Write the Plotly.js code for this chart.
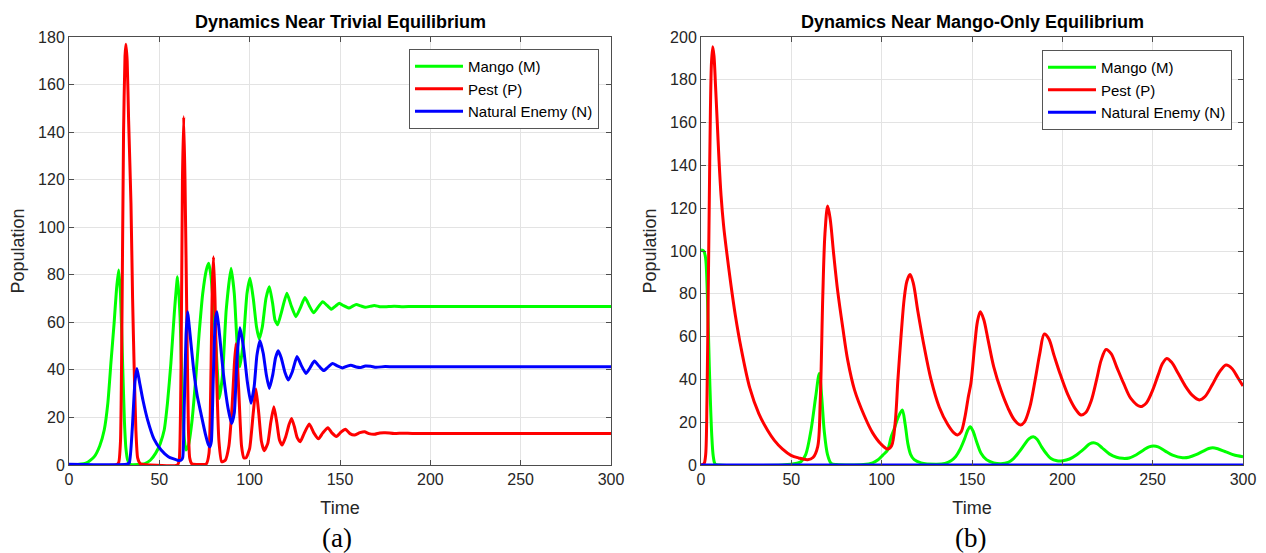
<!DOCTYPE html>
<html>
<head>
<meta charset="utf-8">
<script src="https://cdn.plot.ly/plotly-3.0.1.min.js"></script>
<style>html,body{margin:0;padding:0;background:#fff;}#chart{width:1266px;height:553px;}</style>
</head>
<body>
<div id="chart"></div>
<script>
// ---------- Panel (a): Dynamics Near Trivial Equilibrium ----------
const tMangoA = [0,5,10,14,17,19.5,21.5,23.2,25,26.3,27.5,28.5,29.7,30.7,31.5,32.5,34,38,42,45,48,50.5,52.7,54.5,56.4,58.3,60.1,61.5,62.7,63.7,64.7,66,68,70,72,74,76,77.3,78.5,80,81.5,83.2,85,87,89.7,91.5,93,94.6,96.5,98.5,100.2,102,103.8,105.3,107,109,110.9,112.7,114,115.5,117.5,120.6,123,125.6,128,130.6,133,135.4,138,140.4,143,145.3,147.5,149.6,152,155,157,159,161.5,164,166.5,169,172,175,180,185,190,200,300];
const mangoA  = [0,0.2,1,3.5,8,14.7,26,42.8,60,74,82,72,42,18,7,2,0.3,0.2,0.6,2,5,9,14.7,26,42.8,64,79.2,62,30,12,6.3,8,18,35,55,72,82,84.8,80,66,48,28,38,65,82.7,72,52,41.3,52,72,78.5,70,58,53,58,70,75,68,61,59,64,72.2,67,62.4,66,70.4,67,64,66.5,68.7,67,65.5,66.8,68,67,66,66.8,67.5,66.9,66.3,66.7,67.1,66.6,66.6,66.8,66.6,66.7,66.7,66.7];

const tPestA = [0,26,27.5,28.5,29.3,30.2,31,31.5,32.2,33,34.3,35.2,36.1,37,38,39.5,45,60,61,62,62.8,63.5,64.2,65.3,66.1,66.8,68,76,77.5,78.6,79.3,80,80.8,81.8,83,84.5,86.5,88.5,90.3,91.5,92.4,93.3,94.5,95.5,96.8,98,100,102,103.5,105,106.5,108,110,111.7,113.4,115,116.5,118,120,121.8,123.2,124.8,126.3,128,130,133,135.5,138.1,140.5,143.3,145.5,148,150.5,153,155.5,158,161,163.6,166,169,172,175,180,185,190,300];
const pestA  = [0,0,1,10,60,140,172,177,170,145,110,70,40,15,3,0.5,0,0,2,40,120,146.5,120,56.8,15,3,0.5,0.5,5,40,75,87.6,70,35,10,1.4,2,8,25,42,51,42,22,8,3,3,7,22,32,22,10,6,9,18,24.5,18,10.5,8.4,12,17,19.6,16,11.5,9.8,13,17.2,13.5,11,13.5,15.7,13.5,12,13.8,15,13.2,12.6,13.6,14,13.2,12.9,13.5,13.6,13.2,13.4,13.3,13.3];

const tEnemyA = [0,32,33.4,35,36.5,37.6,39,41,43.5,47,51,55,60,62,62.9,63.8,64.8,65.6,67,69,71,73,75.5,77.2,78,78.8,79.8,80.9,81.9,83.3,85.5,88,90,91.5,93,94.6,96.5,98.7,100.7,102.5,104,105.7,107.5,109.2,110.9,112.8,114.3,115.8,117.5,119.5,121.4,123.5,126.2,128.5,131.2,133.5,135.8,138.5,141,143.5,145.9,148.5,151.4,154,156,159,161.5,164,167,170,175,180,300];
const enemyA  = [0.3,0.3,1,15,35,40.6,35,27,19,11,6.3,3.5,2,2,3,25,55,64.5,55,40,29,21.8,13,8.5,7.7,10,35,60,64.5,55,38,24,17.5,22,45,57.7,50,35,26,33,46,52.3,47,38,32.2,38,45,48,45,39,35.7,39,45.6,42,38.5,41,43.7,41.5,39.7,41.3,42.7,41.7,40.8,41.6,42,41.2,41,41.6,41.5,41.1,41.4,41.3,41.3];

// ---------- Panel (b): Dynamics Near Mango-Only Equilibrium ----------
const tMangoB = [0,1.5,2.5,3.5,4.6,5.9,6.8,7.8,10,45,50,53,55.3,58,60.9,63.5,65.5,66.8,68.2,70,72,75,90,95,97.8,100.5,103.3,105.2,107,109,111.4,113,114.5,116,118,121.8,130,135,138.4,141,143.5,145.8,147.5,149,150.5,152.5,155,158,162,166,170,173,176,179,181.5,183.9,186,188.5,191,193.7,197,200.2,204,208,212,215,217.3,219.5,222,226,230,233.4,237,241,245,248,250.6,253,257,261,266.6,270,274,278,281,283.2,286,290,294,297,300];
const mangoB  = [100.5,100,97,80,46,14.8,4,0.5,0,0,0.3,0.8,1.5,5,16.4,32,42.8,32,16,5,0.8,0.2,0.2,1,2.3,4.5,7,13,17,22,25.7,19,10,5,2.5,1,0.4,0.7,2,4,7.5,12,16,17.9,16,11,5.5,2.5,1,0.6,1.2,3,6,9.5,12.2,13.2,12,8.5,5.5,3,2,2,2.8,4.8,7.5,9.8,10.4,9.8,8,5.2,3.6,3.1,3.3,4.8,7,8.5,8.9,8.5,6.5,4.6,3.4,3.6,4.8,6.5,7.7,8.1,7.6,6.3,5,4.3,3.9];

const tPestB = [0,1,1.8,2.6,3.3,4,4.6,5.2,5.8,6.5,7.2,8,9,10,11.1,12.5,14,16.6,19,22.1,27,32,37,40.6,45,49.8,54,59,62,64.6,66,67.4,68.6,70.1,71.5,73.5,75.7,78.5,81.2,85,90.4,95,99.6,103.3,105.5,107.5,109,110.7,112.5,114,115.7,117.5,120,123.6,127.3,131.9,136.5,140,142,144,146,148,149.4,151.5,153,154.6,156.5,159,162,166,170,173.5,176.8,179,182,185,187.5,190,192.5,195.5,199,203,207,210.3,213,216,219,221.5,224.2,227,230,234,238,243.2,246.5,250,253,255.5,257.8,260.5,264,268,272,275.8,279,283,287,290.6,294,297,300];
const pestB  = [0,0.3,0.8,5,30,80,124,165,188,195.5,191,178,160,142,126,112,101,84,70,55,36,24,16,11.5,7.5,4.5,3.3,2.5,3.5,8.6,30,78.6,108,121,115,98,81,64,49,35,23,15,9.8,7.5,9,20,40,60,78,86,89,85,72,55,40,27,19,15,14,15.5,22,32,38.2,56,67,71.6,68,58,46,35,26.5,21,18.7,20,27,40,52,61.2,59,51,42,33,26.5,23.4,24.5,30,40,49,54,52,46,38,31,27.3,29,35,42,47.5,49.8,48,43,37,32.5,30.4,32,37.5,43.5,46.7,45,41,36.9];

const tEnemyB = [0,300];
const enemyB  = [0,0];

const seriesNames = ['Mango (M)','Pest (P)','Natural Enemy (N)'];
const seriesColors = ['#00ff00','#ff0000','#0000ff'];

const lineA = (c) => ({color:c, width:3, shape:'spline', smoothing:0.5});
const lineB = (c) => ({color:c, width:3, shape:'spline', smoothing:0.9});

const traces = [
  {x:tMangoA, y:mangoA, name:seriesNames[0], line:lineA(seriesColors[0]), xaxis:'x', yaxis:'y', legend:'legend'},
  {x:tPestA, y:pestA, name:seriesNames[1], line:lineA(seriesColors[1]), xaxis:'x', yaxis:'y', legend:'legend'},
  {x:tEnemyA, y:enemyA, name:seriesNames[2], line:lineA(seriesColors[2]), xaxis:'x', yaxis:'y', legend:'legend'},
  {x:tMangoB, y:mangoB, name:seriesNames[0], line:lineB(seriesColors[0]), xaxis:'x2', yaxis:'y2', legend:'legend2'},
  {x:tPestB, y:pestB, name:seriesNames[1], line:lineB(seriesColors[1]), xaxis:'x2', yaxis:'y2', legend:'legend2'},
  {x:tEnemyB, y:enemyB, name:seriesNames[2], line:lineB(seriesColors[2]), xaxis:'x2', yaxis:'y2', legend:'legend2'}
].map(t => Object.assign({type:'scatter', mode:'lines', hoverinfo:'skip'}, t));

const FONT = 'Liberation Sans, Arial, Helvetica, sans-serif';
const axisCommon = {
  showline:true, linecolor:'#4d4d4d', linewidth:1, mirror:'ticks',
  ticks:'inside', ticklen:5, tickcolor:'#4d4d4d', tickwidth:1,
  showgrid:true, gridcolor:'#e3e3e3', gridwidth:1, zeroline:false,
  tickfont:{family:FONT, size:16, color:'#262626'}
};
const xTitle = {text:'Time', font:{family:FONT, size:18, color:'#262626'}, standoff:14};
const yTitle = {text:'Population', font:{family:FONT, size:18, color:'#262626'}, standoff:8};

const layout = {
  width:1266, height:553,
  margin:{l:0, r:0, t:0, b:0},
  paper_bgcolor:'#ffffff', plot_bgcolor:'#ffffff',
  showlegend:true,
  xaxis: Object.assign({}, axisCommon, {domain:[69/1266, 611/1266], range:[0,300], tickvals:[0,50,100,150,200,250,300], title:xTitle, anchor:'y'}),
  yaxis: Object.assign({}, axisCommon, {domain:[88/553, 516/553], range:[0,180], dtick:20, title:yTitle, anchor:'x'}),
  xaxis2: Object.assign({}, axisCommon, {domain:[701/1266, 1243/1266], range:[0,300], tickvals:[0,50,100,150,200,250,300], title:xTitle, anchor:'y2'}),
  yaxis2: Object.assign({}, axisCommon, {domain:[88/553, 516/553], range:[0,200], dtick:20, title:yTitle, anchor:'x2'}),
  legend: {x:409/1266, y:1-49/553, xanchor:'left', yanchor:'top', bgcolor:'#ffffff', bordercolor:'#555555', borderwidth:1,
           font:{family:FONT, size:15, color:'#000000'}, itemwidth:48, tracegroupgap:0},
  legend2: {x:1042/1266, y:1-50/553, xanchor:'left', yanchor:'top', bgcolor:'#ffffff', bordercolor:'#555555', borderwidth:1,
           font:{family:FONT, size:15, color:'#000000'}, itemwidth:48, tracegroupgap:0},
  annotations: [
    {text:'<b>Dynamics Near Trivial Equilibrium</b>', xref:'paper', yref:'paper', x:340/1266, y:1-22/553, xanchor:'center', yanchor:'middle', showarrow:false, font:{family:FONT, size:18, color:'#000000'}},
    {text:'<b>Dynamics Near Mango-Only Equilibrium</b>', xref:'paper', yref:'paper', x:972/1266, y:1-22/553, xanchor:'center', yanchor:'middle', showarrow:false, font:{family:FONT, size:18, color:'#000000'}},
    {text:'(a)', xref:'paper', yref:'paper', x:337/1266, y:1-538/553, xanchor:'center', yanchor:'middle', showarrow:false, font:{family:'Liberation Serif, DejaVu Serif, serif', size:27, color:'#000000'}},
    {text:'(b)', xref:'paper', yref:'paper', x:970/1266, y:1-538/553, xanchor:'center', yanchor:'middle', showarrow:false, font:{family:'Liberation Serif, DejaVu Serif, serif', size:27, color:'#000000'}}
  ]
};

Plotly.newPlot('chart', traces, layout, {staticPlot:true, displayModeBar:false});
</script>
</body>
</html>
